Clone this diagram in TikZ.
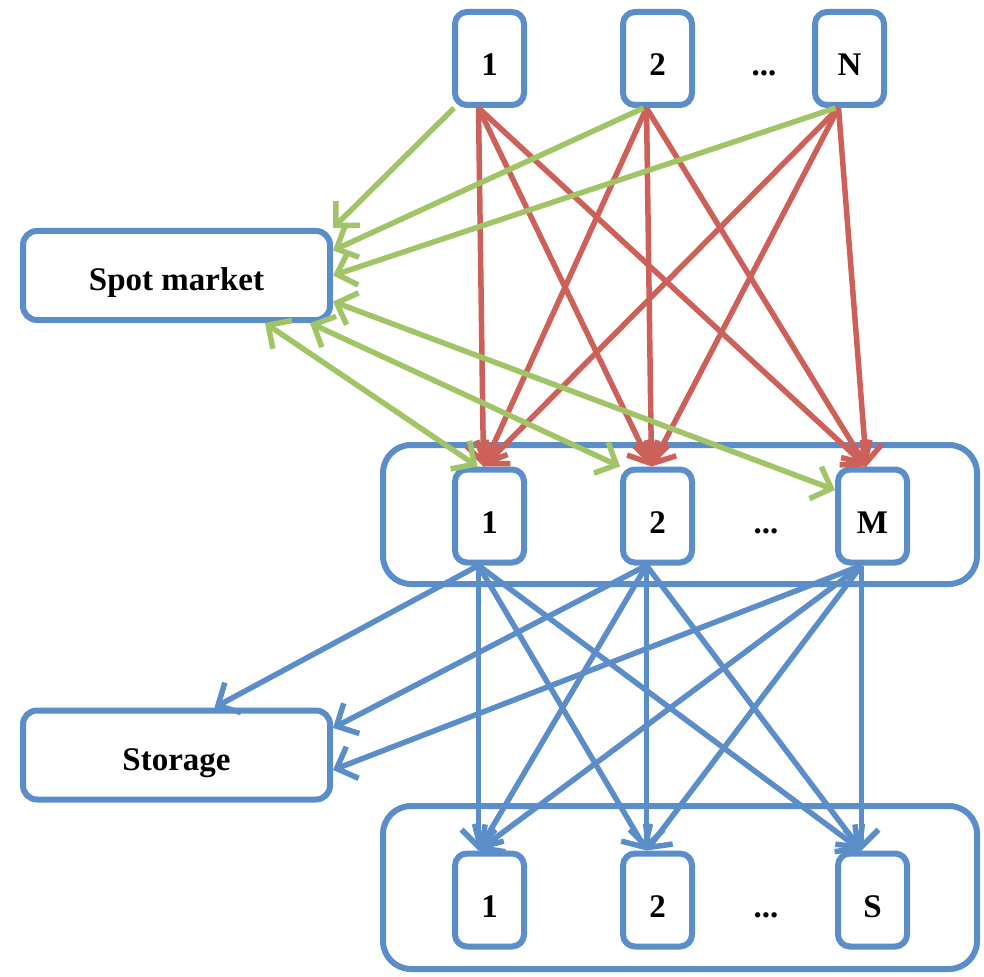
\documentclass[tikz,border=0pt]{standalone}
\usepackage{fontspec}
\setmainfont{Liberation Serif}
\usepackage{xcolor}
\definecolor{boxblue}{RGB}{91,142,200}
\definecolor{flowred}{RGB}{205,96,88}
\definecolor{flowgreen}{RGB}{160,196,102}
\usepackage{tikz}
\usetikzlibrary{positioning,arrows.meta,calc}

\begin{document}
\begin{tikzpicture}[x=1pt,y=-1pt,font=\fontsize{33}{38}\selectfont\bfseries,
  unit/.style={draw=boxblue,line width=6pt,rounded corners=12pt,fill=white,
    minimum width=69pt,minimum height=93pt,text height=35pt,text depth=0pt,inner sep=0pt},
  gap/.style={text height=35pt,text depth=0pt,inner sep=0pt},
  hub/.style={draw=boxblue,line width=6pt,rounded corners=14pt,fill=white,
    minimum width=307pt,minimum height=89pt,text height=30pt,text depth=0pt,inner sep=0pt},
  group/.style={draw=boxblue,line width=6pt,rounded corners=28pt,minimum width=594pt},
  tip/.tip={Straight Barb[length=17pt,width=34pt]},
  flow/.style={line width=5.5pt,-tip},
  both/.style={line width=5.5pt,tip-tip}]
  \useasboundingbox (0,0) rectangle (984,976);

  % Rahmen um die mittlere und untere Reihe
  \node[group,minimum height=139pt] (midrow) at (680,514.5) {};
  \node[group,minimum height=163pt] (botrow) at (680,887.5) {};

  % Obere Reihe 1..N
  \node[unit] (sup1) at (489.5,58.5) {1};
  \node[unit] (sup2) at (657.5,58.5) {2};
  \node[gap] (supdots) at (764,58.5) {...};
  \node[unit] (supN) at (849.5,58.5) {N};

  % Mittlere Reihe 1..M
  \node[unit] (mid1) at (489.5,516) {1};
  \node[unit] (mid2) at (657.5,516) {2};
  \node[gap] (middots) at (766,516) {...};
  \node[unit] (midM) at (872.5,516) {M};

  % Untere Reihe 1..S
  \node[unit] (bot1) at (489.5,900) {1};
  \node[unit] (bot2) at (657.5,900) {2};
  \node[gap] (botdots) at (766,900) {...};
  \node[unit] (botS) at (872.5,900) {S};

  % Markt und Speicher
  \node[hub] (spot) at (176.5,275.5) {Spot market};
  \node[hub] (store) at (176.5,755) {Storage};

  % Rote Pfeile: oben -> Mitte
  \foreach \s in {sup1,sup2,supN}{
    \foreach \t in {mid1,mid2,midM}{
      \draw[flow,flowred] ([xshift=-11pt]\s.south) -- ([xshift=-6pt]\t.north);
    }}

  % Blaue Pfeile: Mitte -> unten
  \foreach \s in {mid1,mid2,midM}{
    \foreach \t in {bot1,bot2,botS}{
      \draw[flow,boxblue] ([xshift=-11pt]\s.south) -- ([xshift=-11pt]\t.north);
    }}

  % Gruene Pfeile: oben -> Spot market
  \draw[flow,flowgreen] ([xshift=2pt]sup1.south west) -- (spot.north east);
  \draw[flow,flowgreen] ([xshift=-14pt]sup2.south) -- ([yshift=25pt]spot.east);
  \draw[flow,flowgreen] ([xshift=-14pt]supN.south) -- (spot.east);

  % Gruene Doppelpfeile: Spot market <-> Mitte
  \draw[both,flowgreen] ([xshift=-68pt]spot.south east) -- ([xshift=-12pt]mid1.north);
  \draw[both,flowgreen] ([xshift=-23pt]spot.south east) -- (mid2.north west);
  \draw[both,flowgreen] ([yshift=-26pt]spot.east) -- ([yshift=26pt]midM.west);

  % Blaue Pfeile: Mitte -> Storage
  \draw[flow,boxblue] ([xshift=-11pt]mid1.south) -- ([xshift=38pt]store.north);
  \draw[flow,boxblue] ([xshift=-11pt]mid2.south) -- ([yshift=27pt]store.east);
  \draw[flow,boxblue] ([xshift=-11pt]midM.south) -- ([yshift=-15pt]store.east);
\end{tikzpicture}
\end{document}
